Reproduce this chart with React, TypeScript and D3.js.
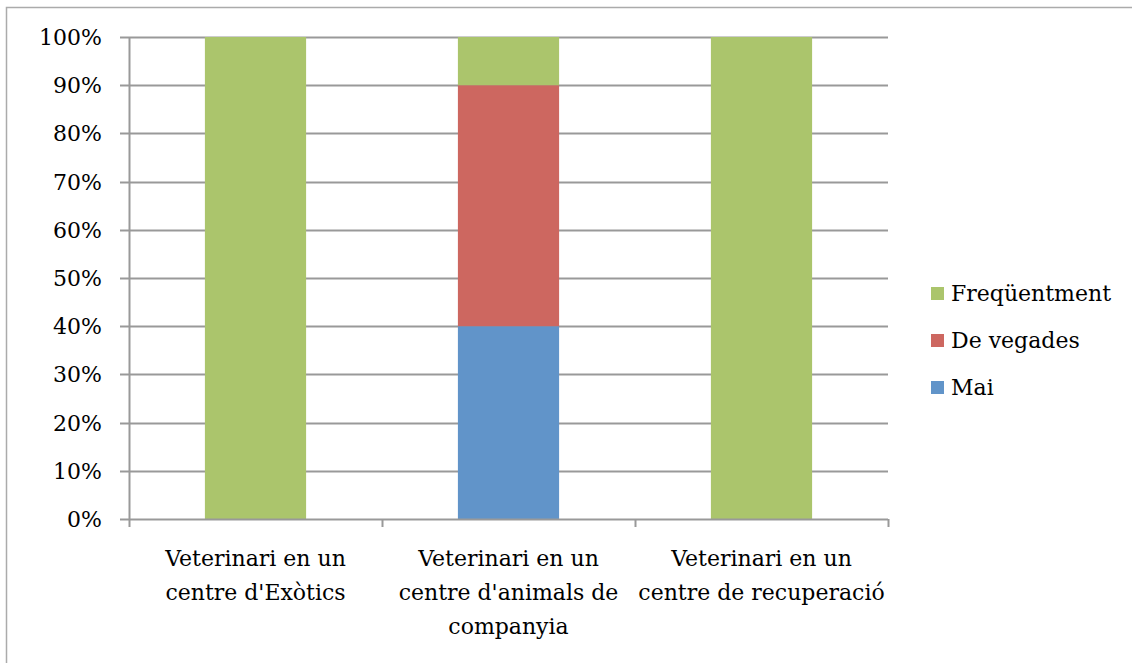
import * as d3 from "d3";
import React, { useEffect, useRef } from "react";

// categories (x axis), each label split into lines
const categories = [
  ["Veterinari en un", "centre d'Exòtics"],
  ["Veterinari en un", "centre d'animals de", "companyia"],
  ["Veterinari en un", "centre de recuperació"],
];

// series shares in %, bottom to top
const seriesNames = ["Mai", "De vegades", "Freqüentment"];
const mai = [0, 40, 0];
const deVegades = [0, 50, 0];
const frequentment = [100, 10, 100];

const yTicks = [0, 10, 20, 30, 40, 50, 60, 70, 80, 90, 100];
const colors = ["#6194C9", "#CD6760", "#ABC56C"];

const FONT = "'DejaVu Serif', serif";

const App: React.FC = () => {
  const svgRef = useRef<SVGSVGElement | null>(null);
  const width = 1132;
  const height = 663;

  useEffect(() => {
    const svg = d3.select(svgRef.current);
    svg.selectAll("*").remove();

    const margin = { top: 37, right: 244, bottom: 144, left: 129 };
    const chartWidth = width - margin.left - margin.right;
    const chartHeight = height - margin.top - margin.bottom;

    // outer chart border
    svg
      .append("rect")
      .attr("x", 6.5)
      .attr("y", 7.5)
      .attr("width", width + 10)
      .attr("height", height + 10)
      .attr("fill", "white")
      .attr("stroke", "#ababab")
      .attr("stroke-width", 1.5);

    const g = svg.append("g").attr("transform", `translate(${margin.left}, ${margin.top})`);

    const x = d3
      .scaleBand<number>()
      .domain(d3.range(categories.length))
      .range([0, chartWidth])
      .paddingInner(0.6)
      .paddingOuter(0.3);
    const xEdge = d3.scaleLinear().domain([0, categories.length]).range([0, chartWidth]);
    const y = d3.scaleLinear().domain([0, 100]).range([chartHeight, 0]);

    // gridlines
    g.append("g")
      .selectAll("line")
      .data(yTicks.filter((t) => t > 0))
      .enter()
      .append("line")
      .attr("x1", -9)
      .attr("x2", chartWidth)
      .attr("y1", (d) => Math.round(y(d)) + 0.5)
      .attr("y2", (d) => Math.round(y(d)) + 0.5)
      .attr("stroke", "#999999")
      .attr("stroke-width", 2);

    // stacked bars
    const table = categories.map((_, i) => ({
      Mai: mai[i],
      "De vegades": deVegades[i],
      Freqüentment: frequentment[i],
    }));
    const stack = d3.stack<any>().keys(seriesNames)(table);

    g.selectAll(".layer")
      .data(stack)
      .enter()
      .append("g")
      .attr("fill", (_, i) => colors[i])
      .selectAll("rect")
      .data((d) => d.map((v, i) => ({ v, i })))
      .enter()
      .append("rect")
      .attr("x", (d) => x(d.i)!)
      .attr("width", x.bandwidth())
      .attr("y", (d) => y(d.v[1]))
      .attr("height", (d) => y(d.v[0]) - y(d.v[1]));

    // y axis line
    g.append("line")
      .attr("x1", 0.5)
      .attr("x2", 0.5)
      .attr("y1", 0)
      .attr("y2", chartHeight)
      .attr("stroke", "#999999")
      .attr("stroke-width", 2);

    // x axis line + ticks
    g.append("line")
      .attr("x1", -9)
      .attr("x2", chartWidth)
      .attr("y1", chartHeight + 0.5)
      .attr("y2", chartHeight + 0.5)
      .attr("stroke", "#999999")
      .attr("stroke-width", 2);

    g.append("g")
      .selectAll("line")
      .data(d3.range(categories.length + 1))
      .enter()
      .append("line")
      .attr("x1", (d) => xEdge(d) + 0.5)
      .attr("x2", (d) => xEdge(d) + 0.5)
      .attr("y1", chartHeight)
      .attr("y2", chartHeight + 8)
      .attr("stroke", "#999999")
      .attr("stroke-width", 2);

    // y labels
    g.append("g")
      .selectAll("text")
      .data(yTicks)
      .enter()
      .append("text")
      .attr("x", -27)
      .attr("y", (d) => y(d))
      .attr("dy", "0.36em")
      .attr("text-anchor", "end")
      .attr("font-family", FONT)
      .attr("font-size", "22px")
      .attr("fill", "#000")
      .text((d) => `${d}%`);

    // x labels
    const xl = g
      .append("g")
      .selectAll("text")
      .data(categories)
      .enter()
      .append("text")
      .attr("text-anchor", "middle")
      .attr("font-family", FONT)
      .attr("font-size", "22px")
      .attr("fill", "#000")
      .attr("transform", (_, i) => `translate(${x(i)! + x.bandwidth() / 2}, ${chartHeight + 47})`);

    xl.selectAll("tspan")
      .data((d) => d)
      .enter()
      .append("tspan")
      .attr("x", 0)
      .attr("y", (_, j) => j * 34)
      .text((d) => d);

    // legend (top to bottom: reversed series order)
    const legendItems = seriesNames.map((n, i) => ({ n, c: colors[i] })).reverse();
    const legend = svg.append("g").attr("transform", "translate(931, 293)");

    legend
      .selectAll("rect")
      .data(legendItems)
      .enter()
      .append("rect")
      .attr("x", 0)
      .attr("y", (_, i) => i * 47 - 6)
      .attr("width", 13)
      .attr("height", 13)
      .attr("fill", (d) => d.c);

    legend
      .selectAll("text")
      .data(legendItems)
      .enter()
      .append("text")
      .attr("x", 20)
      .attr("y", (_, i) => i * 47)
      .attr("dy", "0.36em")
      .attr("font-family", FONT)
      .attr("font-size", "22px")
      .attr("fill", "#000")
      .text((d) => d.n);
  }, []);

  return (
    <svg
      ref={svgRef}
      width={width}
      height={height}
      style={{ position: "absolute", left: 0, top: 0, display: "block" }}
    ></svg>
  );
};

export default App;
